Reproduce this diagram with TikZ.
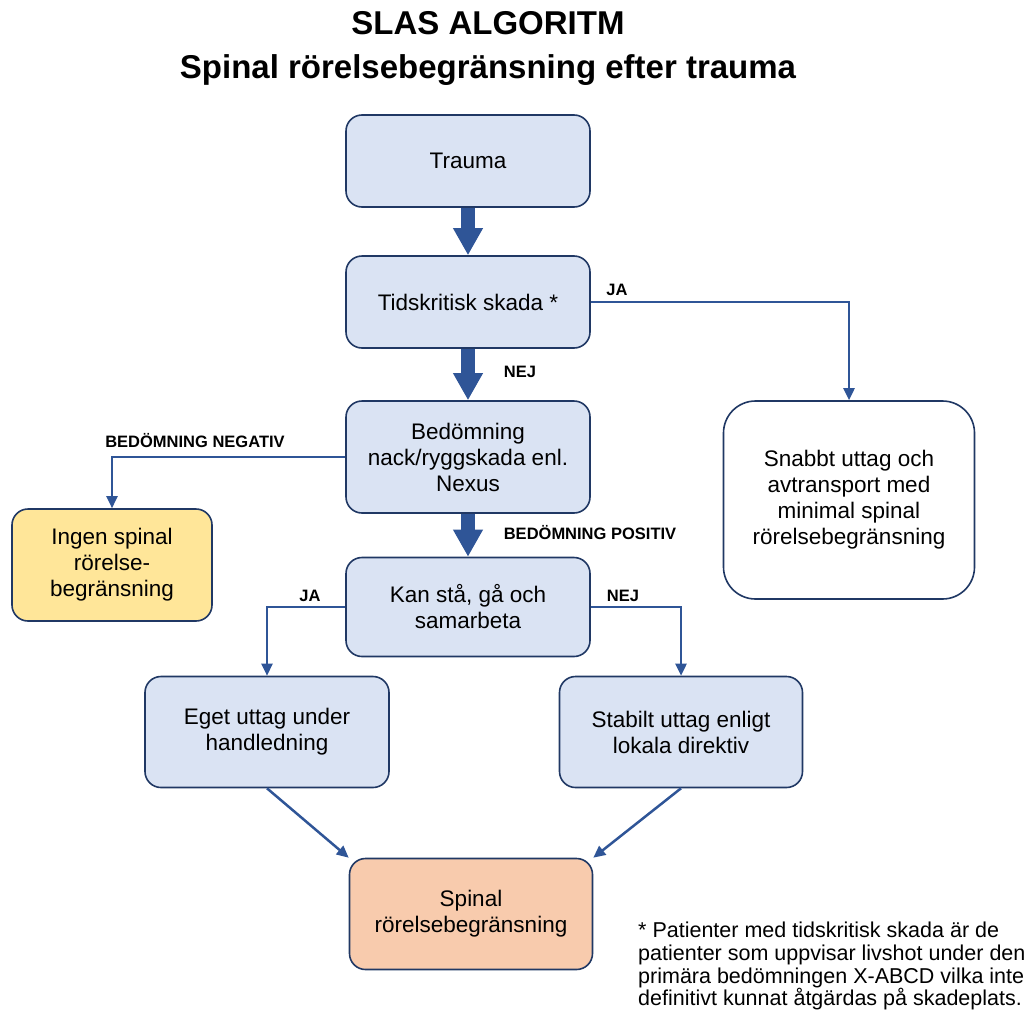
\documentclass[tikz,border=0pt]{standalone}
\usepackage{fontspec}
\setmainfont{Liberation Sans}
\usetikzlibrary{arrows.meta}
\definecolor{boxblue}{HTML}{DAE3F3}
\definecolor{boxyellow}{HTML}{FFE699}
\definecolor{boxpeach}{HTML}{F8CBAD}
\definecolor{edgeblue}{HTML}{203864}
\definecolor{arrblue}{HTML}{2F5597}
\tikzset{
  box/.style={draw=edgeblue, line width=1.6pt, rounded corners=16pt, fill=boxblue,
    minimum width=244pt, minimum height=92pt, align=center,
    font=\fontsize{22.5}{26}\selectfont, inner sep=2pt},
  fat/.style={draw=arrblue, line width=14pt, -{Triangle[width=28pt,length=27pt]}},
  thin/.style={draw=arrblue, line width=2.5pt, -{Triangle[width=11pt,length=12pt]}},
  lab/.style={font=\fontsize{16.5}{18}\bfseries\selectfont, inner sep=0pt},
}
\begin{document}
\begin{tikzpicture}[x=1pt,y=-1pt]
\useasboundingbox (0,0) rectangle (1035,1017);
\node[font=\fontsize{33}{44}\bfseries\selectfont, align=center] (title) at (488,48)
  {SLAS ALGORITM\\Spinal rörelsebegränsning efter trauma};

\node[box] (trauma) at (468,161) {Trauma};
\node[box] (tid) at (468,302) {Tidskritisk skada *};
\node[box, minimum height=112pt] (bed) at (468,457) {Bedömning\\nack/ryggskada enl.\\Nexus};
\node[box, fill=boxyellow, minimum width=200pt, minimum height=112pt] (ingen) at (112,565)
  {Ingen spinal\\rörelse-\\begränsning};
\node[box, minimum height=99pt] (kan) at (468,607) {Kan stå, gå och\\samarbeta};
\node[box, fill=white, rounded corners=32pt, minimum width=251pt, minimum height=198pt] (snab) at (849,500)
  {Snabbt uttag och\\avtransport med\\minimal spinal\\rörelsebegränsning};
\node[box, minimum height=111pt] (eget) at (267,732) {Eget uttag under\\handledning};
\node[box, minimum width=243pt, minimum height=111pt] (stab) at (681,732) {Stabilt uttag enligt\\lokala direktiv};
\node[box, fill=boxpeach, minimum width=243pt, minimum height=111pt] (spin) at (471,914)
  {Spinal\\rörelsebegränsning};

\node[anchor=north west, align=left, inner sep=0pt, font=\fontsize{21.5}{22.7}\selectfont] (note) at (638,922)
  {* Patienter med tidskritisk skada är de\\patienter som uppvisar livshot under den\\primära bedömningen X-ABCD vilka inte\\definitivt kunnat åtgärdas på skadeplats.};

\draw[fat] (trauma.south) -- (tid.north);
\draw[fat] (tid.south) -- (bed.north);
\draw[fat] (bed.south) -- (kan.north);

\draw[thin] (tid.east) -| (snab.north);
\draw[thin] (bed.west) -| (ingen.north);
\draw[thin] (kan.west) -| (eget.north);
\draw[thin] (kan.east) -| (stab.north);
\draw[thin] (eget.south) -- (spin.north west);
\draw[thin] (stab.south) -- (spin.north east);

\node[lab] (l1) at (617,290) {JA};
\node[lab] (l2) at (520,372) {NEJ};
\node[lab] (l3) at (195,441) {BEDÖMNING NEGATIV};
\node[lab] (l4) at (590,533) {BEDÖMNING POSITIV};
\node[lab] (l5) at (310,596) {JA};
\node[lab] (l6) at (623,596) {NEJ};
\end{tikzpicture}
\end{document}
